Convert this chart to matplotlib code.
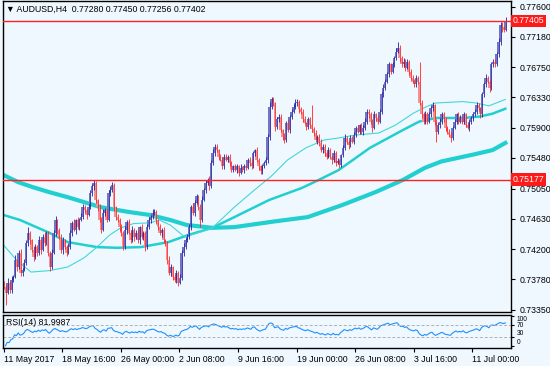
import numpy as np
import pandas as pd
import matplotlib
matplotlib.use('Agg')
import matplotlib.pyplot as plt
from matplotlib import transforms

# AUDUSD H4 closes (bar 0 = 11 May 2017)
closes = [
    0.7367, 0.7359, 0.7373, 0.7363, 0.7377, 0.7381, 0.7405, 0.7395, 0.7415, 0.7387,
    0.7391, 0.7401, 0.7429, 0.7443, 0.7433, 0.7419, 0.7409, 0.7423, 0.7415, 0.7433,
    0.7419, 0.7437, 0.7429, 0.7443, 0.7415, 0.7395, 0.7415, 0.7443, 0.7461, 0.7447,
    0.7437, 0.7419, 0.7433, 0.7423, 0.7415, 0.7423, 0.7443, 0.7457, 0.7447, 0.7461,
    0.7451, 0.7461, 0.7465, 0.7479, 0.7475, 0.7468, 0.7479, 0.7499, 0.7508, 0.7513,
    0.7489, 0.7479, 0.7461, 0.7447, 0.7471, 0.7475, 0.7461, 0.7499, 0.7503, 0.7510,
    0.7479, 0.7465, 0.7461, 0.7451, 0.7443, 0.7423, 0.7447, 0.7458, 0.7443, 0.7433,
    0.7447, 0.7437, 0.7443, 0.7433, 0.7451, 0.7437, 0.7443, 0.7423, 0.7451, 0.7461,
    0.7465, 0.7471, 0.7472, 0.7461, 0.7451, 0.7443, 0.7447, 0.7433, 0.7429, 0.7405,
    0.7387, 0.7395, 0.7381, 0.7377, 0.7387, 0.7373, 0.7380, 0.7415, 0.7423, 0.7433,
    0.7437, 0.7451, 0.7479, 0.7471, 0.7485, 0.7494, 0.7479, 0.7461, 0.7489, 0.7503,
    0.7513, 0.7517, 0.7508, 0.7541, 0.7555, 0.7564, 0.7559, 0.7550, 0.7545, 0.7536,
    0.7550, 0.7545, 0.7550, 0.7541, 0.7531, 0.7536, 0.7531, 0.7536, 0.7527, 0.7534,
    0.7531, 0.7536, 0.7534, 0.7545, 0.7541, 0.7536, 0.7555, 0.7559, 0.7545, 0.7536,
    0.7529, 0.7536, 0.7541, 0.7545, 0.7578, 0.7620, 0.7630, 0.7625, 0.7592, 0.7602,
    0.7606, 0.7587, 0.7578, 0.7573, 0.7597, 0.7587, 0.7606, 0.7613, 0.7620, 0.7625,
    0.7627, 0.7616, 0.7613, 0.7602, 0.7597, 0.7592, 0.7602, 0.7594, 0.7588, 0.7583,
    0.7573, 0.7578, 0.7569, 0.7559, 0.7564, 0.7555, 0.7550, 0.7559, 0.7550, 0.7545,
    0.7555, 0.7541, 0.7543, 0.7538, 0.7552, 0.7562, 0.7576, 0.7571, 0.7566, 0.7576,
    0.7571, 0.7580, 0.7590, 0.7585, 0.7594, 0.7585, 0.7590, 0.7599, 0.7613, 0.7609,
    0.7599, 0.7590, 0.7609, 0.7604, 0.7599, 0.7613, 0.7637, 0.7646, 0.7655, 0.7665,
    0.7679, 0.7669, 0.7679, 0.7688, 0.7697, 0.7702, 0.7688, 0.7679, 0.7683, 0.7674,
    0.7683, 0.7669, 0.7660, 0.7655, 0.7651, 0.7660, 0.7655, 0.7625, 0.7609, 0.7599,
    0.7609, 0.7599, 0.7609, 0.7618, 0.7622, 0.7599, 0.7585, 0.7594, 0.7599, 0.7609,
    0.7604, 0.7590, 0.7585, 0.7580, 0.7576, 0.7590, 0.7599, 0.7609, 0.7599, 0.7604,
    0.7599, 0.7609, 0.7594, 0.7590, 0.7599, 0.7604, 0.7609, 0.7613, 0.7622, 0.7618,
    0.7609, 0.7637, 0.7651, 0.7660, 0.7655, 0.7646, 0.7679, 0.7683, 0.7679, 0.7693,
    0.7711, 0.7735, 0.7731, 0.7728, 0.77402,
]
open_first = 0.7372

# wick length above / below the body, in pips
up_wick = [
    4, 3, 6, 2, 5, 3, 7, 2, 4, 6, 3, 5, 4, 8, 3, 2, 5, 4, 3, 6, 2, 4, 7, 3, 2,
    3, 5, 4, 6, 2, 3, 5, 4, 2, 3, 6, 4, 3, 5, 2, 4, 3, 6, 4, 3, 2, 5, 4, 3, 4,
    3, 2, 5, 4, 6, 3, 2, 4, 5, 4, 3, 2, 4, 3, 5, 2, 6, 3, 4, 2, 5, 3, 4, 6, 2,
    4, 3, 2, 5, 4, 3, 6, 4, 3, 2, 5, 3, 4, 2, 3, 5, 4, 2, 3, 4, 3, 5, 4, 6, 3,
    4, 5, 3, 6, 4, 3, 2, 4, 5, 3, 4, 3, 5, 4, 6, 3, 4, 2, 3, 5, 4, 3, 2, 4, 3,
    2, 4, 3, 2, 5, 3, 4, 2, 3, 4, 5, 3, 2, 4, 3, 2, 4, 3, 5, 4, 6, 4, 3, 2, 4,
    3, 4, 2, 5, 3, 4, 2, 3, 4, 5, 3, 2, 4, 3, 5, 2, 4, 3, 28, 3, 4, 2, 3, 5, 4,
    3, 2, 4, 3, 2, 4, 3, 5, 3, 2, 4, 5, 3, 2, 4, 3, 5, 3, 4, 2, 3, 4, 5, 4, 3,
    4, 3, 5, 2, 4, 3, 4, 5, 3, 4, 3, 2, 4, 3, 5, 8, 4, 3, 5, 3, 4, 2, 3, 4, 3,
    4, 3, 28, 4, 3, 5, 3, 4, 3, 5, 2, 3, 4, 5, 3, 4, 2, 3, 4, 5, 3, 4, 2, 3, 4,
    3, 4, 2, 3, 4, 3, 2, 4, 5, 3, 2, 4, 3, 5, 3, 2, 4, 3, 4, 3, 5, 3, 4, 2, 5,
]
dn_wick = [
    3, 17, 2, 5, 4, 3, 2, 6, 3, 4, 5, 2, 3, 4, 6, 3, 5, 2, 4, 3, 6, 2, 4, 3, 5,
    6, 3, 2, 4, 5, 3, 4, 6, 3, 5, 2, 3, 4, 2, 5, 3, 4, 2, 3, 4, 5, 2, 3, 4, 5,
    4, 5, 3, 4, 2, 5, 3, 2, 4, 3, 5, 4, 3, 6, 4, 4, 3, 5, 2, 4, 3, 6, 2, 4, 5,
    3, 4, 5, 2, 3, 4, 2, 3, 5, 4, 3, 6, 4, 5, 6, 3, 5, 4, 3, 5, 4, 2, 3, 4, 2,
    3, 2, 4, 3, 5, 2, 4, 10, 3, 2, 4, 3, 5, 2, 3, 4, 3, 5, 2, 3, 4, 2, 3, 4, 3,
    3, 2, 4, 5, 2, 3, 4, 3, 2, 4, 3, 2, 4, 3, 5, 4, 3, 2, 3, 4, 5, 3, 4, 6, 3,
    4, 3, 5, 4, 2, 3, 4, 3, 2, 3, 4, 5, 3, 4, 2, 5, 3, 4, 3, 4, 3, 5, 4, 3, 4,
    4, 3, 2, 4, 5, 3, 4, 2, 4, 3, 2, 3, 4, 5, 3, 2, 4, 3, 2, 4, 3, 5, 3, 4, 5,
    3, 5, 2, 4, 3, 2, 3, 4, 3, 2, 4, 3, 2, 4, 3, 2, 5, 4, 3, 4, 2, 5, 3, 2, 4,
    3, 4, 3, 5, 4, 3, 4, 2, 3, 4, 5, 14, 3, 4, 3, 5, 4, 3, 2, 5, 3, 2, 4, 3, 2,
    3, 4, 3, 2, 4, 3, 4, 2, 3, 4, 5, 3, 4, 3, 2, 5, 3, 4, 3, 2, 3, 4, 6, 3, 2,
]

# moving averages, sampled from the chart (bar index, price)
ma_thin_x = [0, 7, 15, 25, 35, 44, 51, 58, 64, 71, 80, 85, 91, 99, 114, 126,
             137, 146, 155, 165, 175, 183, 192, 205, 214, 224, 231, 236, 251,
             258, 265, 274]
ma_thin_y = [0.7426, 0.7405, 0.7388, 0.7390, 0.7395, 0.7408, 0.7423, 0.7440,
             0.7450, 0.7456, 0.7457, 0.7461, 0.7454, 0.7437, 0.7450, 0.7479,
             0.7503, 0.7522, 0.7545, 0.7562, 0.7573, 0.7576, 0.7580, 0.7583,
             0.7594, 0.7611, 0.7620, 0.7625, 0.7627, 0.7625, 0.7621, 0.7630]
ma_mid_x = [0, 9, 25, 35, 51, 62, 75, 90, 101, 114, 126, 145, 163, 172, 183,
            200, 218, 227, 236, 251, 260, 267, 274]
ma_mid_y = [0.7468, 0.7461, 0.7443, 0.7430, 0.7423, 0.7422, 0.7423, 0.7430,
            0.7440, 0.7450, 0.7465, 0.7489, 0.7506, 0.7517, 0.7531, 0.7562,
            0.7587, 0.7599, 0.7604, 0.7604, 0.7606, 0.7610, 0.7617]
ma_slow_x = [0, 8, 16, 25, 35, 44, 53, 62, 69, 80, 91, 100, 114, 126, 148,
             166, 185, 203, 218, 230, 239, 257, 267, 274]
ma_slow_y = [0.7524, 0.7514, 0.7507, 0.7500, 0.7493, 0.7486, 0.7479, 0.7475,
             0.7472, 0.7468, 0.7461, 0.7454, 0.7450, 0.7451, 0.7459, 0.7465,
             0.7482, 0.7500, 0.7517, 0.7534, 0.7543, 0.7553, 0.7559, 0.7569]

price_ticks = [0.77600, 0.77180, 0.76750, 0.76330, 0.75900, 0.75480, 0.75050,
               0.74630, 0.74200, 0.73780, 0.73350]
date_pos = [0, 32, 64, 96, 128, 160, 192, 224, 256]
date_labels = ['11 May 2017', '18 May 16:00', '26 May 00:00', '2 Jun 08:00',
               '9 Jun 16:00', '19 Jun 00:00', '26 Jun 08:00', '3 Jul 16:00',
               '11 Jul 00:00']
hlines = [0.77405, 0.75177]

bg = '#F0F8FF'
plt.rcParams['font.family'] = ['Liberation Sans', 'DejaVu Sans']
fs = 6.3

close = np.array(closes)
opens = np.array([open_first] + closes[:-1])
highs = np.maximum(opens, close) + np.array(up_wick) * 0.0001
lows = np.minimum(opens, close) - np.array(dn_wick) * 0.0001
x = np.arange(len(close))
bull = close >= opens

fig = plt.figure(figsize=(5.5, 3.66), dpi=100, facecolor=bg)
ax = fig.add_axes([3 / 550, 1 - 312 / 366, 508 / 550, 311 / 366], facecolor=bg)
ax2 = fig.add_axes([3 / 550, 1 - 348 / 366, 508 / 550, 33 / 366], facecolor=bg)

# candles: light body, thin dark wick beside it
body_col = np.where(bull, '#7474c6', '#f39090')
wick_col = np.where(bull, '#22229e', '#ff2424')
ax.bar(x, np.maximum(np.abs(close - opens), 0.00005), bottom=np.minimum(opens, close),
       width=0.9, color=body_col, linewidth=0, zorder=2)
ax.vlines(x + 0.4, lows, highs, colors=wick_col, linewidth=0.6, zorder=3)

# moving averages
ma_col = '#22cfd0'
ax.plot(ma_slow_x, ma_slow_y, color=ma_col, lw=3.0, zorder=1,
        solid_joinstyle='round')
ax.plot(ma_mid_x, ma_mid_y, color=ma_col, lw=1.8, zorder=1,
        solid_joinstyle='round')
ax.plot(ma_thin_x, ma_thin_y, color='#40d8d8', lw=0.8, zorder=1)

for lv in hlines:
    ax.axhline(lv, color='#ff2020', lw=1.0, zorder=4)

ax.set_xlim(-0.3, 277.1)
ax.set_ylim(0.7332, 0.7768)
ax.yaxis.tick_right()
ax.set_yticks(price_ticks)
ax.set_yticklabels(['%.5f' % t for t in price_ticks])
ax.tick_params(axis='y', length=3, width=0.8, pad=3, labelsize=fs)
ax.set_xticks([])
for s in ax.spines.values():
    s.set_linewidth(1.0)

trans = transforms.blended_transform_factory(ax.transAxes, ax.transData)
for lv in hlines:
    ax.text(1.004, lv, '%.5f' % lv, transform=trans, fontsize=fs, color='white',
            va='center', ha='left',
            bbox=dict(boxstyle='square,pad=0.18', fc='#ff1a1a', ec='none'))

ax.text(0.006, 0.972, '\u25bc AUDUSD,H4  0.77280 0.77450 0.77256 0.77402',
        transform=ax.transAxes, fontsize=fs, va='center', ha='left')

# RSI(14) from the closes
delta = pd.Series(close).diff()
gain = delta.clip(lower=0).ewm(alpha=1 / 14, adjust=False).mean()
loss = (-delta.clip(upper=0)).ewm(alpha=1 / 14, adjust=False).mean()
rsi = 100 - 100 / (1 + gain / loss)

ax2.plot(x, rsi, color='#1e90ff', lw=0.8)
for lv in (30, 70):
    ax2.axhline(lv, color='#b0b0b0', lw=0.7, ls=(0, (3, 2)))
ax2.set_xlim(-0.3, 277.1)
ax2.set_ylim(-7, 103)
ax2.yaxis.tick_right()
ax2.set_yticks([0, 30, 70, 100])
ax2.set_yticklabels(['0', '30', '70', '100'])
ax2.tick_params(axis='y', length=2, width=0.8, pad=2, labelsize=4.8)
rsi_lbls = ax2.get_yticklabels()
rsi_lbls[0].set_va('bottom')
rsi_lbls[1].set_va('bottom')
rsi_lbls[3].set_va('top')
ax2.set_xticks(date_pos)
ax2.set_xticklabels(date_labels, ha='left')
ax2.tick_params(axis='x', length=3, width=0.8, pad=2, labelsize=fs)
ax2.text(0.006, 0.78, 'RSI(14) 81.9987', transform=ax2.transAxes, fontsize=fs,
         va='center', ha='left')
for s in ax2.spines.values():
    s.set_linewidth(1.0)

plt.savefig('out.png', dpi=100, facecolor=bg)
